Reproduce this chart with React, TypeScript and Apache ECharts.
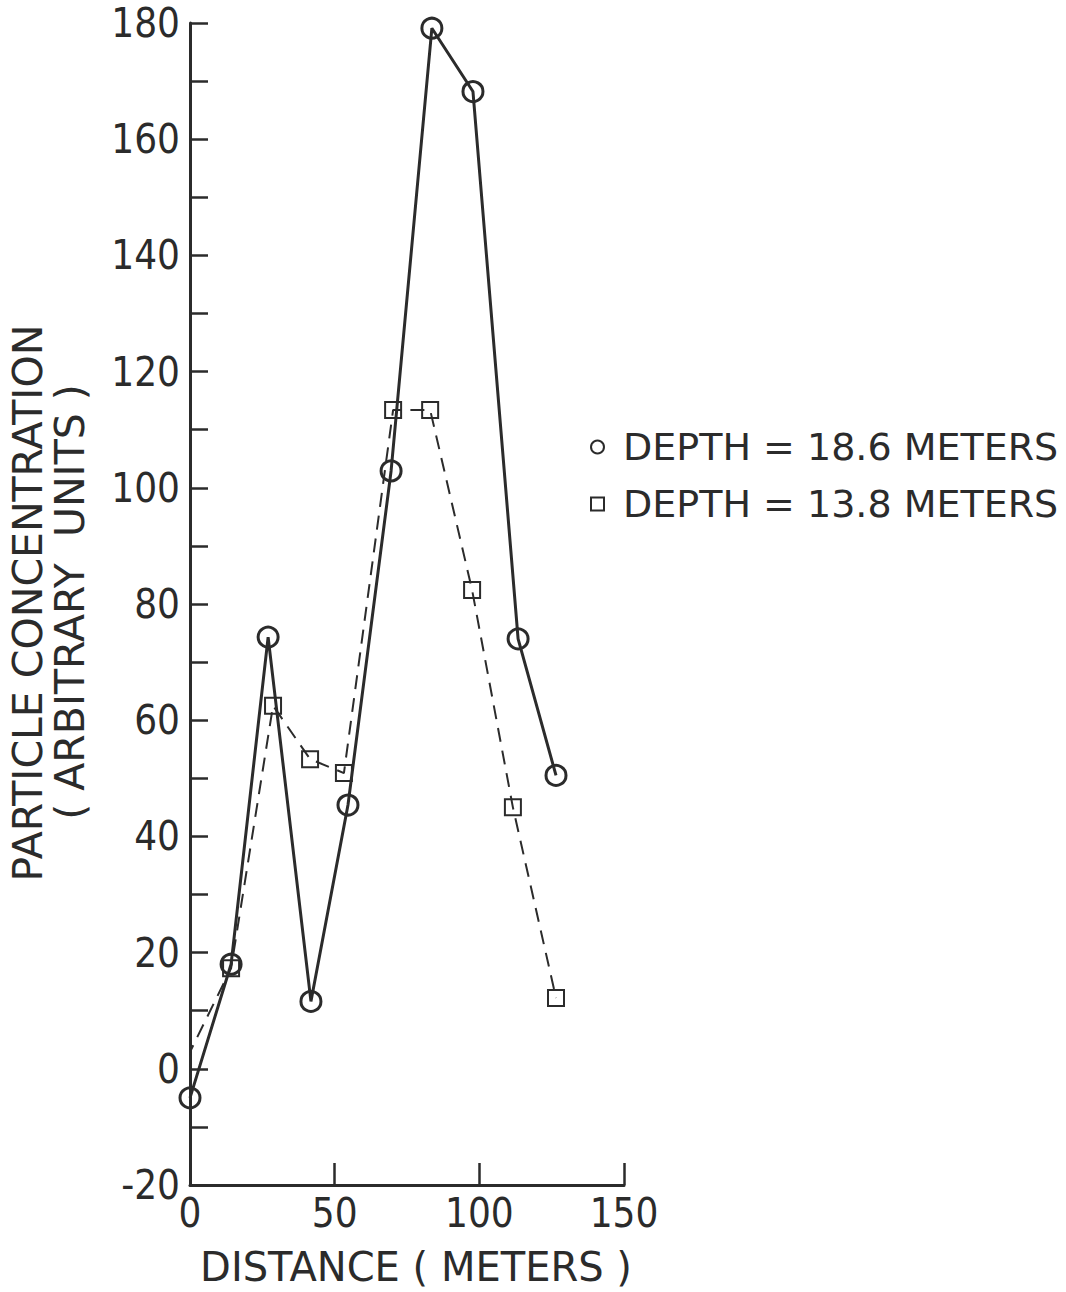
import React, { useEffect, useRef } from "react";
import * as echarts from "echarts";

const seriesNames = ["DEPTH = 18.6 METERS", "DEPTH = 13.8 METERS"];
const deep186: [number, number][] = [
  [0, -5.0], [14.2, 18.0], [27.0, 74.3], [41.8, 11.6], [54.6, 45.4],
  [69.5, 102.9], [83.6, 179.1], [97.8, 168.2], [113.4, 74.0], [126.5, 50.5],
];
const deep138: [number, number][] = [
  [-1.0, 1.9], [14.2, 17.3], [28.7, 62.5], [41.5, 53.3], [53.2, 50.9],
  [70.2, 113.4], [83.0, 113.4], [97.5, 82.4], [111.6, 45.0], [126.5, 12.2],
];
const yTitleLines = ["PARTICLE CONCENTRATION", "( ARBITRARY  UNITS )"];
const xTitle = "DISTANCE ( METERS )";

const INK = "#2b2b2b";
const FONT = "DejaVu Sans";
const NARROW = '"Liberation Sans Narrow", "DejaVu Sans Condensed", "DejaVu Sans"';

export default function App() {
  const ref = useRef<HTMLDivElement>(null);
  useEffect(() => {
    if (!ref.current) return;
    const chart = echarts.init(ref.current, undefined, { renderer: "svg" });
    chart.setOption({
      animation: false,
      backgroundColor: "#ffffff",
      grid: { left: 190, right: 442, top: 23, bottom: 102 },
      xAxis: {
        type: "value",
        min: 0,
        max: 150,
        interval: 50,
        name: xTitle,
        nameLocation: "middle",
        nameGap: 62,
        nameTextStyle: { color: INK, fontFamily: FONT, fontSize: 40, padding: [0, 0, 0, 18] },
        axisLine: { show: true, onZero: false, lineStyle: { color: INK, width: 3 } },
        axisTick: { show: true, inside: true, length: 22, lineStyle: { color: INK, width: 2.5 } },
        axisLabel: { color: INK, fontFamily: NARROW, fontSize: 40, margin: 8 },
        splitLine: { show: false },
      },
      yAxis: {
        type: "value",
        min: -20,
        max: 180,
        interval: 10,
        axisLine: { show: true, onZero: false, lineStyle: { color: INK, width: 3 } },
        axisTick: { show: true, inside: true, length: 18, lineStyle: { color: INK, width: 2.5 } },
        axisLabel: {
          color: INK,
          fontFamily: NARROW,
          fontSize: 40,
          lineHeight: 40,
          margin: 10,
          formatter: (v: number) => (v % 20 === 0 ? String(v) : ""),
        },
        splitLine: { show: false },
      },
      legend: {
        orient: "vertical",
        left: 585,
        top: 423,
        itemGap: 19,
        itemWidth: 13,
        itemHeight: 13,
        textStyle: { color: INK, fontFamily: FONT, fontSize: 38, padding: [0, 0, 0, 14] },
        data: [
          { name: seriesNames[0], icon: "circle" },
          { name: seriesNames[1], icon: "rect" },
        ],
        itemStyle: { color: "transparent", borderColor: INK, borderWidth: 2 },
      },
      graphic: [
        {
          type: "text",
          x: 28,
          y: 603,
          rotation: Math.PI / 2,
          style: {
            text: yTitleLines[0],
            fill: INK,
            font: `41px "${FONT}"`,
            textAlign: "center",
            textVerticalAlign: "middle",
          },
        },
        {
          type: "text",
          x: 70,
          y: 602,
          rotation: Math.PI / 2,
          style: {
            text: yTitleLines[1],
            fill: INK,
            font: `41px "${FONT}"`,
            textAlign: "center",
            textVerticalAlign: "middle",
          },
        },
      ],
      series: [
        {
          name: seriesNames[0],
          type: "line",
          data: deep186,
          symbol: "circle",
          symbolSize: 20,
          lineStyle: { color: INK, width: 3 },
          itemStyle: { color: "transparent", borderColor: INK, borderWidth: 3 },
          z: 3,
        },
        {
          name: seriesNames[1],
          type: "line",
          data: deep138,
          symbol: "rect",
          symbolSize: 16,
          lineStyle: { color: INK, width: 2, type: [14, 9] },
          itemStyle: { color: "transparent", borderColor: INK, borderWidth: 2 },
          z: 2,
        },
      ],
    });
    return () => chart.dispose();
  }, []);
  return <div ref={ref} style={{ width: 1066, height: 1292, position: "absolute", left: 0, top: 0 }} />;
}
